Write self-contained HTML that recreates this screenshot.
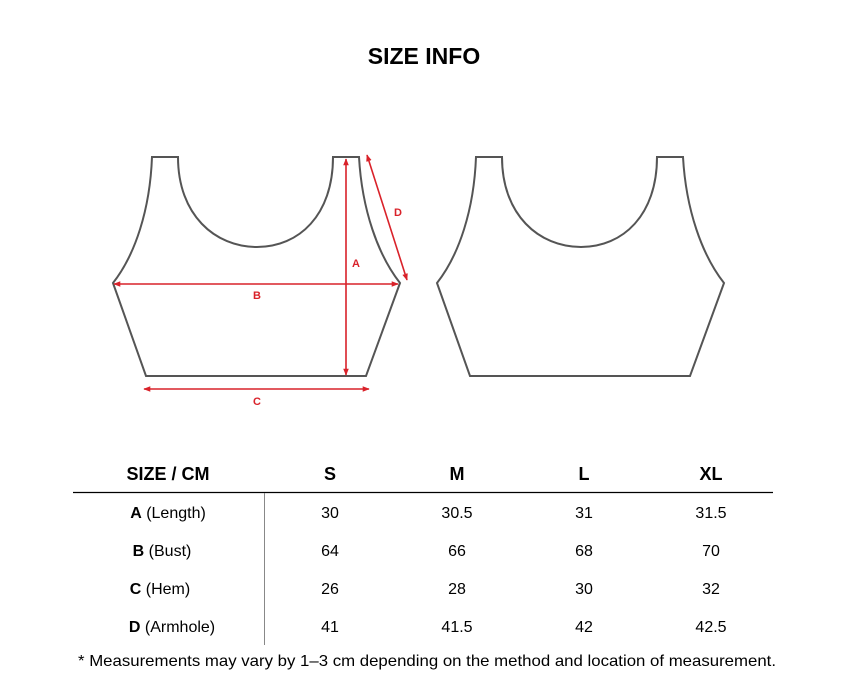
<!DOCTYPE html>
<html><head><meta charset="utf-8"><style>
html,body{margin:0;padding:0;background:#fff;}
svg{display:block;}
text{font-family:"Liberation Sans",Arial,sans-serif;}
</style></head><body>
<svg width="850" height="700" viewBox="0 0 850 700" xmlns="http://www.w3.org/2000/svg">
<defs>
<marker id="ar" viewBox="0 0 10 10" refX="9" refY="5" markerWidth="7" markerHeight="7" orient="auto-start-reverse" markerUnits="userSpaceOnUse">
<path d="M0,1 L10,5 L0,9 Z" fill="#d9222a"/>
</marker>
</defs>
<text x="424" y="64" text-anchor="middle" font-size="23" font-weight="bold" fill="#000">SIZE INFO</text>
<g fill="none" stroke="#555" stroke-width="2" stroke-linejoin="miter">
<path id="g" d="M152,157 L178,157 C178,215 215,247 257,247 C299,247 333,215 333,157 L359,157 C362,210 378,255 400,283 L366,376 L146,376 L113,283 C135,255 150,210 152,157 Z"/>
<path transform="translate(324,0)" d="M152,157 L178,157 C178,215 215,247 257,247 C299,247 333,215 333,157 L359,157 C362,210 378,255 400,283 L366,376 L146,376 L113,283 C135,255 150,210 152,157 Z"/>
</g>
<g stroke="#d9222a" stroke-width="1.6" fill="none" marker-start="url(#ar)" marker-end="url(#ar)">
<line x1="346" y1="159" x2="346" y2="375"/>
<line x1="114" y1="284" x2="398" y2="284"/>
<line x1="144" y1="389" x2="369" y2="389"/>
<line x1="367" y1="155" x2="407" y2="280"/>
</g>
<g fill="#d9222a" font-size="11" font-weight="bold" text-anchor="middle">
<text x="356" y="267">A</text>
<text x="257" y="299">B</text>
<text x="257" y="405">C</text>
<text x="398" y="216">D</text>
</g>
<g font-size="18" font-weight="bold" text-anchor="middle" fill="#000">
<text x="168" y="480">SIZE / CM</text>
<text x="330" y="480">S</text>
<text x="457" y="480">M</text>
<text x="584" y="480">L</text>
<text x="711" y="480">XL</text>
</g>
<line x1="73" y1="492.5" x2="773" y2="492.5" stroke="#000" stroke-width="1.3"/>
<line x1="264.5" y1="493" x2="264.5" y2="645" stroke="#888" stroke-width="1"/>
<g font-size="16" fill="#000" text-anchor="middle">
<text x="168" y="518"><tspan font-weight="bold">A</tspan>  (Length)</text>
<text x="162" y="556"><tspan font-weight="bold">B</tspan>  (Bust)</text>
<text x="160" y="594"><tspan font-weight="bold">C</tspan>  (Hem)</text>
<text x="172" y="632"><tspan font-weight="bold">D</tspan> (Armhole)</text>
<text x="330" y="518">30</text><text x="457" y="518">30.5</text><text x="584" y="518">31</text><text x="711" y="518">31.5</text>
<text x="330" y="556">64</text><text x="457" y="556">66</text><text x="584" y="556">68</text><text x="711" y="556">70</text>
<text x="330" y="594">26</text><text x="457" y="594">28</text><text x="584" y="594">30</text><text x="711" y="594">32</text>
<text x="330" y="632">41</text><text x="457" y="632">41.5</text><text x="584" y="632">42</text><text x="711" y="632">42.5</text>
</g>
<text x="78" y="666" font-size="16" fill="#000" textLength="698" lengthAdjust="spacingAndGlyphs">* Measurements may vary by 1–3 cm depending on the method and location of measurement.</text>
</svg>
</body></html>
